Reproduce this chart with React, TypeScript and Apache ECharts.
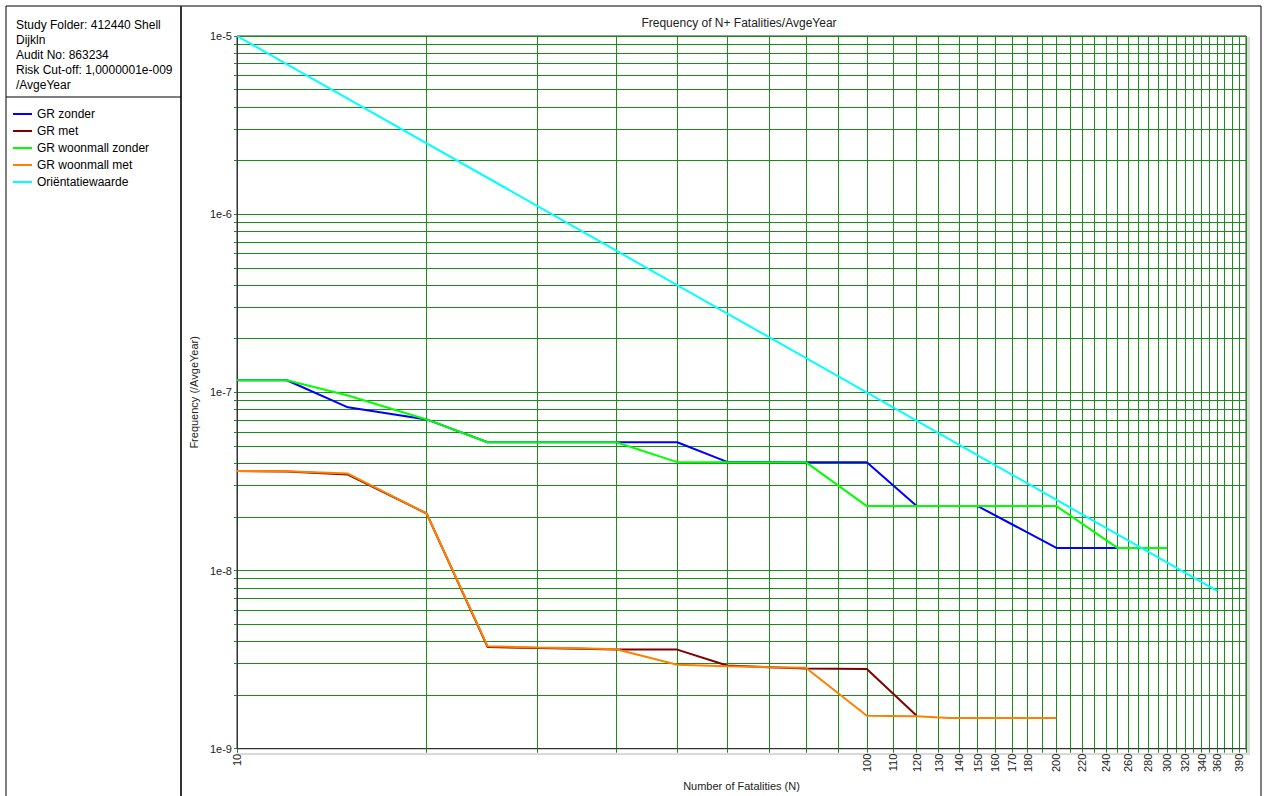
import React, { useEffect, useRef } from 'react';
import * as echarts from 'echarts';

const FONT = '"Liberation Sans", Arial, sans-serif';

const seriesNames = ['GR zonder', 'GR met', 'GR woonmall zonder', 'GR woonmall met', 'Oriëntatiewaarde'];
const seriesColors = ['#0000ff', '#800000', '#00ff00', '#ff8000', '#00ffff'];

const grZonderN = [10, 12, 15, 20, 25, 50, 60, 80, 100, 120, 150, 200, 250];
const grZonderF = [1.17e-7, 1.17e-7, 8.24e-8, 7.05e-8, 5.25e-8, 5.25e-8, 4.07e-8, 4.06e-8, 4.06e-8, 2.3e-8, 2.3e-8, 1.34e-8, 1.34e-8];

const grMetN = [10, 12, 15, 20, 25, 30, 35, 40, 50, 60, 70, 80, 100, 120];
const grMetF = [3.62e-8, 3.6e-8, 3.46e-8, 2.09e-8, 3.72e-9, 3.68e-9, 3.64e-9, 3.6e-9, 3.6e-9, 2.93e-9, 2.87e-9, 2.82e-9, 2.8e-9, 1.53e-9];

const woonZonderN = [10, 12, 15, 20, 25, 40, 50, 80, 100, 200, 250, 300];
const woonZonderF = [1.17e-7, 1.17e-7, 9.6e-8, 7.05e-8, 5.25e-8, 5.25e-8, 4.06e-8, 4.06e-8, 2.3e-8, 2.3e-8, 1.34e-8, 1.34e-8];

const woonMetN = [10, 12, 15, 20, 25, 30, 35, 40, 50, 60, 70, 80, 100, 120, 135, 200];
const woonMetF = [3.62e-8, 3.61e-8, 3.5e-8, 2.09e-8, 3.76e-9, 3.7e-9, 3.66e-9, 3.62e-9, 2.96e-9, 2.9e-9, 2.87e-9, 2.85e-9, 1.53e-9, 1.52e-9, 1.49e-9, 1.49e-9];

const orientatieN = [10, 360];
const orientatieF = [1e-5, 7.7e-9];

const xGridValues = [
  10, 20, 30, 40, 50, 60, 70, 80, 90, 100, 110, 120, 130, 140, 150, 160, 170, 180, 190, 200,
  210, 220, 230, 240, 250, 260, 270, 280, 290, 300, 310, 320, 330, 340, 350, 360, 370, 380, 390, 400,
];
const xTickLabels = [10, 100, 110, 120, 130, 140, 150, 160, 170, 180, 200, 220, 240, 260, 280, 300, 320, 340, 360, 390];

const yGridValues = [
  1e-9, 2e-9, 3e-9, 4e-9, 5e-9, 6e-9, 7e-9, 8e-9, 9e-9,
  1e-8, 2e-8, 3e-8, 4e-8, 5e-8, 6e-8, 7e-8, 8e-8, 9e-8,
  1e-7, 2e-7, 3e-7, 4e-7, 5e-7, 6e-7, 7e-7, 8e-7, 9e-7,
  1e-6, 2e-6, 3e-6, 4e-6, 5e-6, 6e-6, 7e-6, 8e-6, 9e-6,
  1e-5,
];
const yTickLabels = [1e-9, 1e-8, 1e-7, 1e-6, 1e-5];

const infoText = 'Study Folder: 412440 Shell\nDijkln\nAudit No: 863234\nRisk Cut-off: 1,0000001e-009\n/AvgeYear';
const chartTitle = 'Frequency of N+ Fatalities/AvgeYear';

const GRID_GREEN = '#1a8c1a';

function pairs(xs: number[], ys: number[]) {
  return xs.map((x, i) => [x, ys[i]]);
}

export default function App() {
  const ref = useRef<HTMLDivElement>(null);
  useEffect(() => {
    if (!ref.current) return;
    const chart = echarts.init(ref.current, undefined, { renderer: 'svg' });
    const H = ref.current.clientHeight;
    const plotTop = 36;
    const plotBottomPx = 752;
    const bottom = Math.max(0, H - plotBottomPx);
    const datasets = [
      pairs(grZonderN, grZonderF),
      pairs(grMetN, grMetF),
      pairs(woonZonderN, woonZonderF),
      pairs(woonMetN, woonMetF),
      pairs(orientatieN, orientatieF),
    ];
    chart.setOption({
      animation: false,
      backgroundColor: '#ffffff',
      textStyle: { fontFamily: FONT },
      grid: {
        left: 237, top: plotTop, right: 20, bottom,
        show: true, borderColor: '#333', borderWidth: 1, backgroundColor: 'transparent',
      },
      legend: {
        orient: 'vertical', left: 8, top: 103, itemWidth: 19, itemHeight: 2, itemGap: 5,
        icon: 'rect', data: seriesNames,
        textStyle: { fontSize: 12, color: '#000', fontFamily: FONT },
      },
      graphic: [
        { type: 'rect', shape: { x: 6, y: 6, width: 1255, height: 800 }, style: { fill: 'none', stroke: '#000', lineWidth: 1 }, silent: true },
        { type: 'line', shape: { x1: 181, y1: 6, x2: 181, y2: 800 }, style: { stroke: '#333', lineWidth: 2 }, silent: true },
        { type: 'line', shape: { x1: 6, y1: 97, x2: 181, y2: 97 }, style: { stroke: '#000', lineWidth: 1 }, silent: true },
        { type: 'rect', shape: { x: 1247, y: plotTop + 1, width: 3, height: H - bottom - plotTop + 2 }, style: { fill: '#d9d9d9' }, silent: true },
        { type: 'rect', shape: { x: 238, y: H - bottom + 1, width: 1012, height: 2 }, style: { fill: '#d9d9d9' }, silent: true, z: -1 },
        { type: 'text', x: 16, y: 17, style: { text: infoText, font: '12px ' + FONT, fill: '#000', lineHeight: 15 }, silent: true },
        { type: 'text', x: 739, y: 23, style: { text: chartTitle, font: '12px ' + FONT, fill: '#222', textAlign: 'center', textVerticalAlign: 'middle' }, silent: true },
      ],
      xAxis: {
        type: 'log', logBase: 10, min: 10, max: 400,
        name: 'Number of Fatalities (N)', nameLocation: 'middle', nameGap: 30,
        nameTextStyle: { fontSize: 11, color: '#222', fontFamily: FONT },
        axisLine: { show: true, lineStyle: { color: '#333', width: 1 } },
        axisTick: { show: true, customValues: xGridValues, length: 4, lineStyle: { color: GRID_GREEN } },
        axisLabel: {
          customValues: xTickLabels, rotate: 90, fontSize: 11, color: '#222', margin: 5,
          formatter: (v: number) => String(Math.round(v)),
        },
        splitLine: { show: true, lineStyle: { color: GRID_GREEN, width: 1 } },
      },
      yAxis: {
        type: 'log', logBase: 10, min: 1e-9, max: 1e-5,
        name: 'Frequency (/AvgeYear)', nameLocation: 'middle', nameGap: 36, nameRotate: 90,
        nameTextStyle: { fontSize: 11, color: '#222', fontFamily: FONT },
        axisLine: { show: true, lineStyle: { color: '#333', width: 1 } },
        axisTick: { show: true, customValues: yGridValues, length: 3, lineStyle: { color: GRID_GREEN } },
        axisLabel: {
          customValues: yTickLabels, fontSize: 11, color: '#222', margin: 5,
          formatter: (v: number) => '1e' + Math.round(Math.log10(v)),
        },
        splitLine: { show: true, lineStyle: { color: GRID_GREEN, width: 1 } },
      },
      series: seriesNames.map((name, i) => ({
        name, type: 'line', data: datasets[i], showSymbol: false, symbol: 'none',
        color: seriesColors[i], lineStyle: { color: seriesColors[i], width: 2 },
        z: 3 + i,
      })),
    });
    return () => chart.dispose();
  }, []);
  return <div ref={ref} style={{ position: 'fixed', left: 0, top: 0, width: '100vw', height: '100vh' }} />;
}
